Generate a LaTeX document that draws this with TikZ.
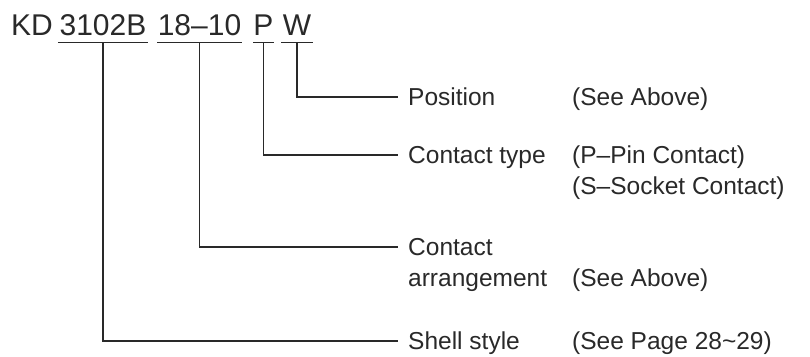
\documentclass[tikz,border=0pt]{standalone}
\usepackage{fontspec}
\setmainfont{Liberation Sans}
\usetikzlibrary{positioning}
\definecolor{ink}{gray}{0.16}

\begin{document}
\begin{tikzpicture}[x=1pt, y=-1pt, ink, node distance=13pt,
    part/.style={inner xsep=0pt, inner ysep=0pt, text depth=7pt,
        font=\fontsize{30}{30}\selectfont, anchor=base},
    lbl/.style={inner sep=0pt, text height=17.2pt, text depth=0pt,
        font=\fontsize{24.5}{24.5}\selectfont, anchor=west},
    leader/.style={line width=1.3pt, shorten >=10pt}]
    \useasboundingbox (0,0) rectangle (810,356);
    \coordinate (RemarkCol) at (572,0);
    % Part number
    \node [part, anchor=base west] (Maker) at (11,35) {KD};
    \node [part, minimum width=90pt] (ShellNo) at (103,35) {3102B};
    \node [part, minimum width=84pt] (ArrNo) at (199.5,35) {18--10};
    \node [part, minimum width=20pt] (TypeNo) at (263.5,35) {P};
    \node [part, minimum width=31pt] (PosNo) at (297,35) {W};
    % Underlines
    \foreach \n in {ShellNo, ArrNo, TypeNo, PosNo}
        \draw [line width=1.3pt] (\n.south west) -- (\n.south east);
    % Labels
    \node [lbl] (Position) at (408,97) {Position};
    \node [lbl] (PosNote) at (Position.west -| RemarkCol) {(See Above)};
    \node [lbl] (Type) at (408,155) {Contact type};
    \node [lbl] (PinNote) at (Type.west -| RemarkCol) {(P--Pin Contact)};
    \node [lbl,
        below right=13.5pt and 0pt of PinNote.south west
    ] (SocketNote) {(S--Socket Contact)};
    \node [lbl] (Arrange) at (408,247) {Contact};
    \node [lbl,
        below right=13.5pt and 0pt of Arrange.south west
    ] (Arrange2) {arrangement};
    \node [lbl] (ArrNote) at (Arrange2.west -| RemarkCol) {(See Above)};
    \node [lbl] (Shell) at (408,341) {Shell style};
    \node [lbl] (ShellNote) at (Shell.west -| RemarkCol) {(See Page 28\textasciitilde29)};
    % Leader lines
    \draw [leader] (PosNo.south) |- (Position.west);
    \draw [leader] (TypeNo.south) |- (Type.west);
    \draw [leader] (ArrNo.south) |- (Arrange.west);
    \draw [leader] (ShellNo.south) |- (Shell.west);
\end{tikzpicture}
\end{document}
